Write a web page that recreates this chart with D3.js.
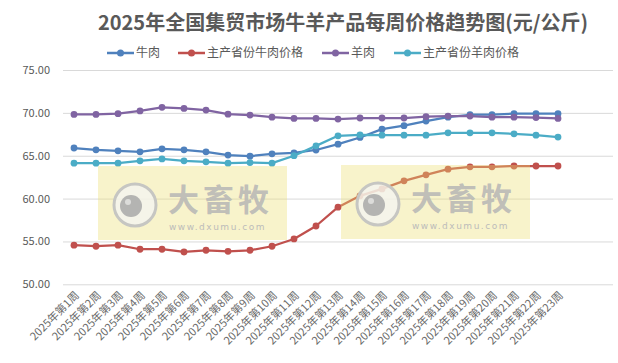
<!DOCTYPE html>
<html lang="zh">
<head>
<meta charset="UTF-8">
<title>2025年全国集贸市场牛羊产品每周价格趋势图</title>
<style>
  html, body { margin: 0; padding: 0; background: #fff; }
  svg { display: block; font-family: "Noto Sans CJK SC", "Noto Sans", sans-serif; }
</style>
</head>
<body>
<svg id="chart"></svg>
<script src="https://cdn.jsdelivr.net/npm/d3@7/dist/d3.min.js"></script>
<script>
const width = 618;
const height = 363;

// 周次（横轴）
const weeks = [
  '2025年第1周', '2025年第2周', '2025年第3周', '2025年第4周', '2025年第5周',
  '2025年第6周', '2025年第7周', '2025年第8周', '2025年第9周', '2025年第10周',
  '2025年第11周', '2025年第12周', '2025年第13周', '2025年第14周', '2025年第15周',
  '2025年第16周', '2025年第17周', '2025年第18周', '2025年第19周', '2025年第20周',
  '2025年第21周', '2025年第22周', '2025年第23周'
];
// 横轴预留的分类格数（末尾两格为空）
const slotCount = 25;

// 各系列价格（元/公斤）
const beef = [65.90, 65.69, 65.57, 65.45, 65.80, 65.69, 65.45, 65.07, 64.95, 65.22,
  65.34, 65.67, 66.35, 67.13, 68.10, 68.50, 69.04, 69.50, 69.78, 69.78,
  69.90, 69.90, 69.90];
const provBeef = [54.56, 54.44, 54.56, 54.09, 54.09, 53.77, 53.97, 53.85, 53.97, 54.44,
  55.29, 56.80, 59.00, 60.32, 61.13, 62.07, 62.77, 63.43, 63.70, 63.70,
  63.80, 63.80, 63.80];
const mutton = [69.82, 69.82, 69.90, 70.22, 70.65, 70.52, 70.32, 69.85, 69.74, 69.50,
  69.35, 69.35, 69.27, 69.40, 69.40, 69.40, 69.55, 69.62, 69.62, 69.50,
  69.50, 69.45, 69.35];
const provMutton = [64.13, 64.13, 64.13, 64.40, 64.63, 64.40, 64.29, 64.13, 64.20, 64.13,
  65.00, 66.15, 67.32, 67.44, 67.40, 67.40, 67.40, 67.67, 67.67, 67.67,
  67.56, 67.40, 67.17];

const seriesNames = ['牛肉', '主产省份牛肉价格', '羊肉', '主产省份羊肉价格'];
const seriesValues = [beef, provBeef, mutton, provMutton];
const colors = ['#4F81BD', '#C0504D', '#8064A2', '#4BACC6'];

const yTicks = [50, 55, 60, 65, 70, 75];

const svg = d3.select('#chart')
  .attr('width', width)
  .attr('height', height);

const x = d3.scaleBand()
  .domain(d3.range(slotCount))
  .range([63, 613]);
const cx = i => x(i) + x.bandwidth() / 2;

const y = d3.scaleLinear()
  .domain([50, 75])
  .range([284.3, 70]);

// 标题
svg.append('text')
  .attr('x', 343)
  .attr('y', 30)
  .attr('text-anchor', 'middle')
  .attr('font-size', 20)
  .attr('font-weight', 'bold')
  .attr('fill', '#595959')
  .text('2025年全国集贸市场牛羊产品每周价格趋势图(元/公斤)');

// 图例
const legendX = [107, 178, 322, 394];
const legend = svg.append('g')
  .selectAll('g')
  .data(seriesNames)
  .enter()
  .append('g')
  .attr('transform', (d, i) => `translate(${legendX[i]}, 53)`);
legend.append('line')
  .attr('x1', 0).attr('x2', 27)
  .attr('stroke', (d, i) => colors[i])
  .attr('stroke-width', 2.5);
legend.append('circle')
  .attr('cx', 13.5)
  .attr('r', 3.5)
  .attr('fill', (d, i) => colors[i]);
legend.append('text')
  .attr('x', 29)
  .attr('dy', '0.36em')
  .attr('font-size', 12)
  .attr('fill', '#595959')
  .text(d => d);

// 纵轴与网格线
const yAxis = svg.append('g')
  .attr('transform', 'translate(63,0)')
  .call(d3.axisLeft(y).tickValues(yTicks).tickFormat(d3.format('.2f')).tickSize(-550).tickPadding(13));
yAxis.select('.domain').remove();
yAxis.selectAll('.tick line').attr('stroke', '#d9d9d9');
yAxis.selectAll('.tick text')
  .attr('font-size', 11)
  .attr('fill', '#595959')
  .attr('font-family', '"Noto Sans CJK SC", sans-serif');

// 横轴标签
const xAxis = svg.append('g')
  .attr('transform', 'translate(0,284.3)')
  .call(d3.axisBottom(x).tickValues(d3.range(weeks.length)).tickFormat(i => weeks[i]).tickSize(0));
xAxis.select('.domain').remove();
xAxis.selectAll('.tick text')
  .attr('font-size', 11)
  .attr('fill', '#6a6a6a')
  .attr('font-family', '"Noto Sans CJK SC", sans-serif')
  .attr('text-anchor', 'end')
  .attr('x', 0)
  .attr('y', 0)
  .attr('dy', '0.35em')
  .attr('transform', 'translate(3,9) rotate(-45)');

// 折线
const line = d3.line()
  .x((d, i) => cx(i))
  .y(d => y(d));

const series = svg.append('g')
  .selectAll('g')
  .data(seriesValues)
  .enter()
  .append('g');
series.append('path')
  .attr('d', d => line(d))
  .attr('fill', 'none')
  .attr('stroke', (d, i) => colors[i])
  .attr('stroke-width', 2.25)
  .attr('stroke-linejoin', 'round');
series.each(function(vals, si) {
  d3.select(this).selectAll('circle')
    .data(vals)
    .enter()
    .append('circle')
    .attr('cx', (d, i) => cx(i))
    .attr('cy', d => y(d))
    .attr('r', 3.4)
    .attr('fill', colors[si]);
});

// 水印
function watermark(x0, y0) {
  const w = svg.append('g').attr('transform', `translate(${x0}, ${y0})`);
  w.append('rect')
    .attr('width', 189)
    .attr('height', 74)
    .attr('fill', 'rgb(236, 222, 110)')
    .attr('opacity', 0.36);
  w.append('circle')
    .attr('cx', 37).attr('cy', 39).attr('r', 21)
    .attr('fill', '#f4f4f0')
    .attr('fill-opacity', 0.8)
    .attr('stroke', '#c6c6c2')
    .attr('stroke-width', 3);
  w.append('circle')
    .attr('cx', 33).attr('cy', 40).attr('r', 11)
    .attr('fill', '#b4b4b2');
  w.append('circle')
    .attr('cx', 30).attr('cy', 36).attr('r', 3)
    .attr('fill', '#dcdcda');
  w.append('text')
    .attr('x', 70).attr('y', 45)
    .attr('font-size', 31)
    .attr('letter-spacing', 4)
    .attr('font-weight', 'bold')
    .attr('fill', '#b8b8b6')
    .attr('fill-opacity', 0.9)
    .text('大畜牧');
  w.append('text')
    .attr('x', 71).attr('y', 64)
    .attr('font-size', 9)
    .attr('letter-spacing', 1.5)
    .attr('font-family', '"DejaVu Sans", sans-serif')
    .attr('fill', '#bcbcba')
    .text('www.dxumu.com');
}
watermark(98, 166);
watermark(341, 165);
</script>
</body>
</html>
